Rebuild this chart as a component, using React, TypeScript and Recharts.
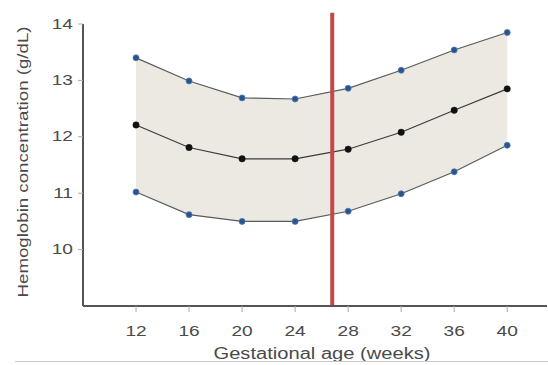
import React from "react";
import {
  ComposedChart,
  Line,
  Area,
  XAxis,
  YAxis,
  ReferenceLine,
  Label,
} from "recharts";

const weeks = [12, 16, 20, 24, 28, 32, 36, 40];
const upper = [13.4, 12.99, 12.69, 12.67, 12.86, 13.18, 13.54, 13.85];
const mean = [12.21, 11.81, 11.61, 11.61, 11.78, 12.08, 12.47, 12.85];
const lower = [11.02, 10.62, 10.5, 10.5, 10.68, 10.99, 11.38, 11.85];
const xTicks = [12, 16, 20, 24, 28, 32, 36, 40];
const yTicks = [10, 11, 12, 13, 14];
const markerWeek = 26.8;

const data = weeks.map((w, i) => ({
  week: w,
  upper: upper[i],
  mean: mean[i],
  lower: lower[i],
  band: [lower[i], upper[i]],
}));

const FONT = "'Liberation Sans', Arial, sans-serif";
const TEXT = "#4a4a4a";

const XTick = (props: any) => {
  const { x, y, payload } = props;
  const s = String(payload.value);
  return (
    <g transform={`translate(${x}, ${y + 17}) scale(1.32, 1)`}>
      <text
        x={0}
        y={0}
        textAnchor="middle"
        dominantBaseline="central"
        fill={TEXT}
        fontSize={14.5}
        fontFamily={FONT}
      >
        {s}
      </text>
    </g>
  );
};

const YTick = (props: any) => {
  const { x, y, payload } = props;
  const s = String(payload.value);
  return (
    <g transform={`translate(${x - 3}, ${y}) scale(1.32, 1)`}>
      <text
        x={0}
        y={0}
        textAnchor="end"
        dominantBaseline="central"
        fill={TEXT}
        fontSize={14.5}
        fontFamily={FONT}
      >
        {s}
      </text>
    </g>
  );
};

const YLabel = (props: any) => {
  const vb = props.viewBox || {};
  const cx = vb.x + 22;
  const cy = vb.y + vb.height / 2 - 3;
  return (
    <text
      x={cx}
      y={cy}
      transform={`rotate(-90, ${cx}, ${cy})`}
      textAnchor="middle"
      dominantBaseline="central"
      fill={TEXT}
      fontSize={15}
      fontFamily={FONT}
      textLength={271}
      lengthAdjust="spacingAndGlyphs"
    >
      Hemoglobin concentration (g/dL)
    </text>
  );
};

const XLabel = (props: any) => {
  const vb = props.viewBox || {};
  const cx = vb.x + vb.width / 2 + 7;
  const cy = vb.y + 47;
  return (
    <text
      x={cx}
      y={cy}
      textAnchor="middle"
      dominantBaseline="central"
      fill={TEXT}
      fontSize={16}
      fontFamily={FONT}
      textLength={217}
      lengthAdjust="spacingAndGlyphs"
    >
      Gestational age (weeks)
    </text>
  );
};

export default function App() {
  return (
    <div style={{ position: "absolute", left: 0, top: 0, width: 548, height: 365, background: "#fff" }}>
      <ComposedChart
        width={548}
        height={365}
        data={data}
        margin={{ top: 24, right: 1, bottom: 0, left: 0 }}
      >
        <XAxis
          dataKey="week"
          type="number"
          domain={[8, 43]}
          ticks={xTicks}
          height={59}
          axisLine={{ stroke: "#555", strokeWidth: 2 }}
          tickLine={{ stroke: "#aaa" }}
          tickSize={6}
          tick={<XTick />}
        >
          <Label content={<XLabel />} />
        </XAxis>
        <YAxis
          type="number"
          domain={[9, 14]}
          ticks={yTicks}
          width={83}
          allowDataOverflow
          axisLine={{ stroke: "#555", strokeWidth: 2 }}
          tickLine={{ stroke: "#aaa" }}
          tickSize={5}
          tick={<YTick />}
        >
          <Label content={<YLabel />} />
        </YAxis>
        <Area
          dataKey="band"
          stroke="none"
          fill="#ece9e3"
          fillOpacity={1}
          isAnimationActive={false}
          dot={false}
          activeDot={false}
        />
        <Line
          dataKey="upper"
          stroke="#5a5a5a"
          strokeWidth={1.2}
          dot={{ r: 3, fill: "#2c548c", stroke: "#4a7ab8", strokeWidth: 0.8 }}
          isAnimationActive={false}
        />
        <Line
          dataKey="mean"
          stroke="#3a3a3a"
          strokeWidth={1.2}
          dot={{ r: 3.2, fill: "#111", stroke: "#111", strokeWidth: 0.5 }}
          isAnimationActive={false}
        />
        <Line
          dataKey="lower"
          stroke="#5a5a5a"
          strokeWidth={1.2}
          dot={{ r: 3, fill: "#2c548c", stroke: "#4a7ab8", strokeWidth: 0.8 }}
          isAnimationActive={false}
        />
        <ReferenceLine
          segment={[
            { x: markerWeek, y: 9 },
            { x: markerWeek, y: 14.2 },
          ]}
          stroke="#c4484a"
          strokeWidth={4}
          ifOverflow="visible"
        />
      </ComposedChart>
      <div
        style={{
          position: "absolute",
          left: 15,
          top: 361,
          width: 533,
          height: 0,
          borderTop: "1px solid #c8c8c8",
        }}
      />
    </div>
  );
}
